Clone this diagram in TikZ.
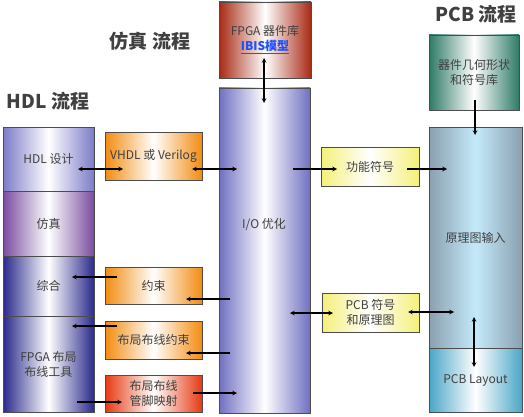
\documentclass[tikz,border=0pt]{standalone}
\usepackage{fontspec}
\setmainfont{Noto Sans CJK SC}
\usepackage{tikz}
\usetikzlibrary{shapes,arrows,positioning,calc}
\definecolor{txtgray}{HTML}{404040}
\definecolor{hdlblue}{HTML}{7C7CC8}
\definecolor{simpurple}{HTML}{7A4C9E}
\definecolor{navy}{HTML}{2A2A8C}
\definecolor{orng}{HTML}{F28C10}
\definecolor{redorng}{HTML}{E63A12}
\definecolor{darkred}{HTML}{A82A14}
\definecolor{iolilac}{HTML}{7070C2}
\definecolor{ylw}{HTML}{F4F07A}
\definecolor{teal}{HTML}{2E7A66}
\definecolor{schgray}{HTML}{8AA0B0}
\definecolor{schblue}{HTML}{C4EAFA}
\definecolor{pcbblue}{HTML}{4AA6C6}
\definecolor{linkblue}{HTML}{1E50FF}
\tikzstyle{arrow} = [line width=1.1pt,->,>=stealth]
\tikzstyle{darrow} = [line width=1.1pt,<->,>=stealth]

\begin{document}
\begin{tikzpicture}[
    x=1pt, y=-1pt,
    txt/.style={inner sep=0pt, align=center, text=txtgray, font=\fontsize{12}{15}\selectfont},
    box/.style={txt, draw=gray!60!black, rectangle},
    grad/.style={box, left color=#1, right color=#1, middle color=white},
    title/.style={font=\fontsize{19}{21}\selectfont\bfseries, text=txtgray}
]
\useasboundingbox (0,0) rectangle (524,417);

% 标题
\node[title] (t-hdl) at (48,101) {HDL 流程};
\node[title] (t-sim) at (150,41) {仿真 流程};
\node[title] (t-pcb) at (476,14) {PCB 流程};

% HDL 流程
\node[grad=hdlblue, minimum width=91pt, minimum height=64pt] (hdl) at (48.5,159) {HDL 设计};
\node[grad=simpurple, minimum width=91pt, minimum height=65pt] (sim) at (48.5,223.5) {仿真};
\node[grad=navy, minimum width=91pt, minimum height=60pt] (syn) at (48.5,286) {综合};
\node[grad=navy, minimum width=91pt, minimum height=96pt] (par) at (48.5,364) {FPGA 布局\\布线工具};

% 中间
\node[grad=orng, minimum width=97pt, minimum height=48pt] (vhdl) at (153.5,156) {VHDL 或 Verilog};
\node[grad=orng, minimum width=97pt, minimum height=37pt] (cons) at (153.5,285.5) {约束};
\node[grad=orng, minimum width=97pt, minimum height=38pt] (pcons) at (153.5,340) {布局布线约束};
\node[grad=redorng, minimum width=97pt, minimum height=37pt] (pin) at (153.5,393.5) {布局布线\\管脚映射};

% 仿真 流程
\node[grad=darkred, minimum width=92pt, minimum height=76pt] (fpgalib) at (265,40)
    {FPGA 器件库\\{\color{linkblue}\bfseries\underline{IBIS模型}}};
\node[grad=iolilac, minimum width=91pt, minimum height=325pt] (io) at (264.5,250.5) {};
\node[txt] (io-t) at (264,225) {I/O 优化};

\node[grad=ylw, minimum width=98pt, minimum height=39pt] (func) at (370,166.5) {功能符号};
\node[grad=ylw, minimum width=97pt, minimum height=39pt] (pcbsym) at (370.5,312.5) {PCB 符号\\和原理图};

% PCB 流程
\node[grad=teal, minimum width=90pt, minimum height=75pt] (lib) at (474,72.5) {器件几何形状\\和符号库};
\node[box, left color=schgray, right color=schgray, middle color=schblue,
    minimum width=93pt, minimum height=221pt] (sch) at (475.5,237.5) {原理图输入};
\node[grad=pcbblue, minimum width=93pt, minimum height=64pt] (layout) at (475.5,380) {PCB Layout};

% 连线
\draw[darrow] ($(hdl.center)+(29.5,10)$) -- ($(vhdl.center)+(-30.5,13)$);
\draw[darrow] ($(vhdl.center)+(38.5,13)$) -- ($(io.center)+(-27.5,-81.5)$);
\draw[arrow] ($(io.center)+(28.5,-81.5)$) -- ($(func.center)+(-33,2.5)$);
\draw[arrow] ($(func.center)+(37,2.5)$) -- ($(sch.center)+(-28.5,-68.5)$);
\draw[arrow] ($(cons.center)+(-36.5,-8.5)$) -- ($(syn.center)+(23.5,-9)$);
\draw[arrow] ($(io.center)+(-34.5,48.5)$) -- ($(cons.center)+(32.5,13.5)$);
\draw[arrow] ($(pcons.center)+(-36.5,-14)$) -- ($(par.center)+(23.5,-38)$);
\draw[arrow] ($(io.center)+(-34.5,102.5)$) -- ($(pcons.center)+(32.5,13)$);
\draw[arrow] ($(par.center)+(28.5,38)$) -- ($(pin.center)+(-31.5,8.5)$);
\draw[arrow] ($(pin.center)+(39.5,-0.5)$) -- ($(io.center)+(-27.5,142.5)$);
\draw[darrow] ($(io.center)+(25.5,62.5)$) -- ($(pcbsym.center)+(-37.5,0.5)$);
\draw[darrow] ($(pcbsym.center)+(37.5,-0.5)$) -- ($(sch.center)+(-21.5,74.5)$);
\draw[darrow] ($(sch.center)+(-1.5,79.5)$) -- ($(layout.center)+(-1.5,-13)$);
\draw[arrow] ($(lib.center)+(1,27.5)$) -- ($(sch.center)+(-0.5,-102.5)$);
\draw[darrow] ($(fpgalib.center)+(-1,18)$) -- ($(io.center)+(-0.5,-147.5)$);
\end{tikzpicture}
\end{document}
